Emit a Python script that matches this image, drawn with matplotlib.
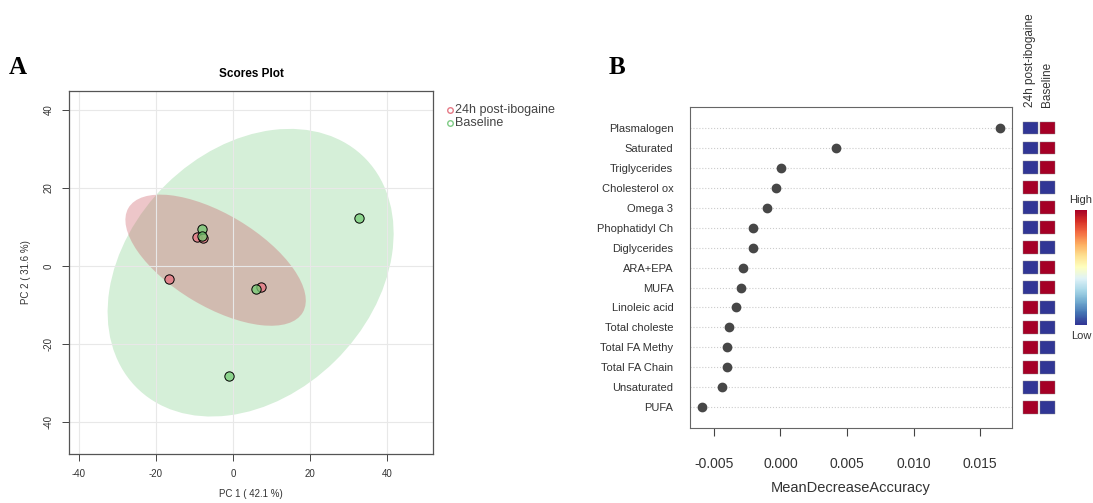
import matplotlib.pyplot as plt
import numpy as np
from matplotlib.patches import Ellipse
import matplotlib as mpl

plt.rcParams['font.family'] = ['Liberation Sans', 'DejaVu Sans']
plt.rcParams['axes.unicode_minus'] = False

# ---- panel A: PCA scores ----
pc1_post = [-9.4, -7.9, -16.5, 7.4]
pc2_post = [7.5, 7.3, -3.4, -5.3]
pc1_base = [32.7, -8.1, 6.1, -1.1, -8.0]
pc2_base = [12.2, 9.6, -5.8, -28.1, 7.8]
# 95% confidence ellipses: centre x, centre y, width, height, angle
ell_post = (-4.5, 1.5, 52.6, 23.6, -30.5)
ell_base = (4.6, -1.7, 83.5, 63.0, 44.0)
group_names = ["24h post-ibogaine", "Baseline"]

# ---- panel B: random forest importance ----
features = ["Plasmalogen", "Saturated", "Triglycerides", "Cholesterol ox", "Omega 3",
            "Phophatidyl Ch", "Diglycerides", "ARA+EPA", "MUFA", "Linoleic acid",
            "Total choleste", "Total FA Methy", "Total FA Chain", "Unsaturated", "PUFA"]
mda = [0.01649, 0.00416, 0.00003, -0.0003, -0.0010, -0.00203, -0.0021, -0.00278,
       -0.00293, -0.00333, -0.0039, -0.0040, -0.0040, -0.00436, -0.00589]
hm_post = [0, 0, 0, 1, 0, 0, 1, 0, 0, 1, 1, 1, 1, 0, 1]
hm_base = [1, 1, 1, 0, 1, 1, 0, 1, 1, 0, 0, 0, 0, 1, 0]

fig = plt.figure(figsize=(10.93, 5.03), dpi=100)

# ================= A =================
ax = fig.add_axes([0.0631, 0.0974, 0.3331, 0.7217])
e_b = Ellipse(ell_base[:2], ell_base[2], ell_base[3], angle=ell_base[4],
              facecolor='#D5EFD8', edgecolor='none', zorder=1)
e_p = Ellipse(ell_post[:2], ell_post[2], ell_post[3], angle=ell_post[4],
              facecolor=(0.8, 0.36, 0.4, 0.35), edgecolor='none', zorder=1.2)
ax.add_patch(e_b)
ax.add_patch(e_p)
for v in [-40, -20, 0, 20, 40]:
    ax.axvline(v, color='#E8E8E8', lw=0.8, zorder=1.5)
    ax.axhline(v, color='#E8E8E8', lw=0.8, zorder=1.5)
ax.scatter(pc1_post, pc2_post, s=45, facecolor=(0.9, 0.45, 0.5, 0.75), edgecolor='k', lw=0.7, zorder=3)
ax.scatter(pc1_base, pc2_base, s=45, facecolor=(0.45, 0.8, 0.45, 0.75), edgecolor='k', lw=0.7, zorder=3)
ax.set_xlim(-42.6, 52)
ax.set_ylim(-48.1, 44.8)
ax.set_xticks([-40, -20, 0, 20, 40])
ax.set_yticks([-40, -20, 0, 20, 40])
ax.tick_params(labelsize=7, length=5, width=0.7, color='#444444', labelcolor='#333333', pad=6)
for lab in ax.get_yticklabels():
    lab.set_rotation(90)
    lab.set_va('center')
for s in ax.spines.values():
    s.set_color('#555555')
    s.set_linewidth(0.9)
ax.set_title("Scores Plot", fontsize=8.5, fontweight='bold', pad=10)
ax.set_xlabel("PC 1 ( 42.1 %)", fontsize=7, color='#333333', labelpad=7)
ax.set_ylabel("PC 2 ( 31.6 %)", fontsize=7, color='#333333', labelpad=9)

# legend
fig.text(455 / 1093, 1 - 110 / 503, group_names[0], fontsize=9, color='#444444', va='center')
fig.text(455 / 1093, 1 - 123 / 503, group_names[1], fontsize=9, color='#444444', va='center')
fig.lines.append(plt.Line2D([450 / 1093], [1 - 110 / 503], marker='o', ms=4, mfc='none',
                            mec='#E57A86', mew=1, transform=fig.transFigure))
fig.lines.append(plt.Line2D([450 / 1093], [1 - 123 / 503], marker='o', ms=4, mfc='none',
                            mec='#7FCB85', mew=1, transform=fig.transFigure))

fig.text(18 / 1093, 1 - 68 / 503, "A", fontsize=18, fontweight='bold',
         family='Liberation Serif', va='center', ha='center')
fig.text(617 / 1093, 1 - 68 / 503, "B", fontsize=18, fontweight='bold',
         family='Liberation Serif', va='center', ha='center')

# ================= B =================
n = len(features)
ypos = np.arange(n, 0, -1)
bx = fig.add_axes([0.6313, 0.1491, 0.2943, 0.6382])
for y in ypos:
    bx.axhline(y, color='#CCCCCC', lw=0.8, ls=':', zorder=1)
bx.scatter(mda, ypos, s=36, color='#474747', zorder=3)
bx.set_xlim(-0.0068, 0.01738)
bx.set_ylim(-0.04, n + 1.05)
bx.set_yticks(ypos)
bx.set_yticklabels(features, fontsize=8, color='#333333')
bx.tick_params(axis='y', length=0, pad=12)
bx.set_xticks([-0.005, 0.0, 0.005, 0.010, 0.015])
bx.set_xticklabels(["-0.005", "0.000", "0.005", "0.010", "0.015"])
bx.tick_params(axis='x', labelsize=10, length=6, width=0.8, color='#444444', pad=15, labelcolor='#333333')
for s in bx.spines.values():
    s.set_color('#666666')
    s.set_linewidth(0.8)
bx.set_xlabel("MeanDecreaseAccuracy", fontsize=10.5, color='#333333', labelpad=7)

# heatmap squares
cmap = mpl.colormaps['RdYlBu_r']
hx = fig.add_axes([0.9350, 0.1491, 0.0311, 0.6382])
hx.barh(ypos, 0.88, left=0.06, height=0.64, color=cmap(np.array(hm_post, float)),
        edgecolor='#888888', lw=0.3)
hx.barh(ypos, 0.88, left=1.06, height=0.64, color=cmap(np.array(hm_base, float)),
        edgecolor='#888888', lw=0.3)
hx.set_xlim(0, 2)
hx.set_ylim(-0.04, n + 1.05)
hx.axis('off')
hx.text(0.5, n + 1.05, group_names[0], rotation=90, ha='center', va='bottom', fontsize=8.5, color='#333333')
hx.text(1.5, n + 1.05, group_names[1], rotation=90, ha='center', va='bottom', fontsize=8.5, color='#333333')

# colour key
cx = fig.add_axes([1075 / 1093, 1 - 325 / 503, 12 / 1093, 115 / 503])
cx.imshow(np.linspace(1, 0, 100).reshape(-1, 1), aspect='auto', cmap=cmap)
cx.axis('off')
fig.text(1081 / 1093, 1 - 200 / 503, "High", fontsize=8, ha='center', va='center', color='#333333')
fig.text(1081 / 1093, 1 - 336 / 503, "Low", fontsize=8, ha='center', va='center', color='#333333')

fig.savefig("out.png", dpi=100)
